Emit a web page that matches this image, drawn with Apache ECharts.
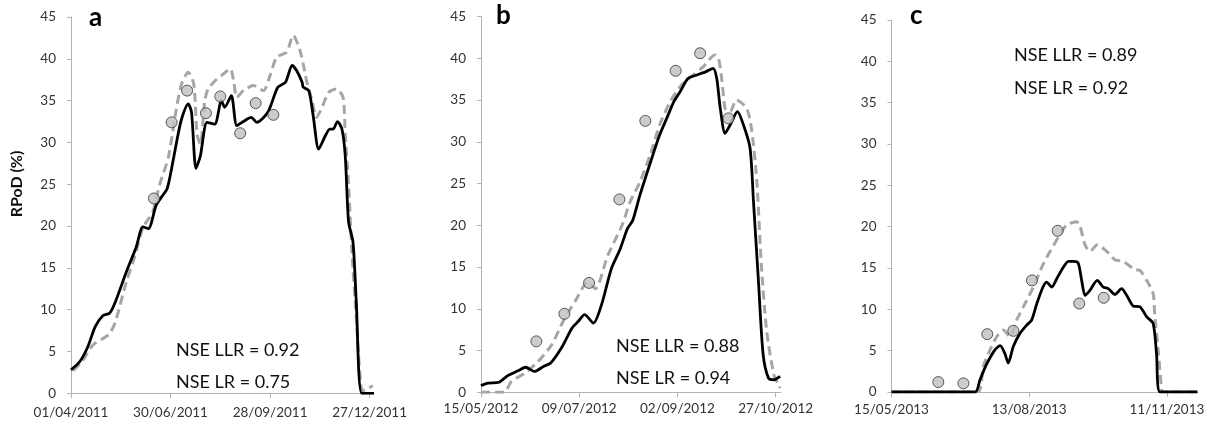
<!DOCTYPE html>
<html><head><meta charset="utf-8">
<script src="https://cdn.jsdelivr.net/npm/echarts@6/dist/echarts.min.js"></script>
<style>html,body{margin:0;padding:0;background:#fff}#c{width:1212px;height:428px}</style>
</head><body><div id="c"></div>
<script>
// ---------- DATA (x = days since the panel's start date, y = RPoD %) ----------
const startA = '01/04/2011';
const startB = '15/05/2012';
const startC = '15/05/2013';
const ticksA = ['01/04/2011', '30/06/2011', '28/09/2011', '27/12/2011'];
const ticksB = ['15/05/2012', '09/07/2012', '02/09/2012', '27/10/2012'];
const ticksC = ['15/05/2013', '13/08/2013', '11/11/2013'];
const yTicks = [0, 5, 10, 15, 20, 25, 30, 35, 40, 45];

const solidA = [[0,2.8],[8,3.8],[15,5.5],[22,8.0],[29,9.3],[35,9.6],[40,10.9],[50,14.5],[59,17.5],[65,19.9],[70,19.7],[77,22.5],[82,23.5],[87,24.5],[91,26.9],[96,30.4],[100,32.8],[106,34.6],[109,33.6],[113,26.9],[117,28.4],[123,32.4],[130,32.2],[136,35.0],[139,34.2],[145,35.6],[150,32.0],[157,32.6],[163,33.0],[168,32.4],[178,33.6],[187,36.6],[194,37.2],[200,39.2],[204,38.6],[209,37.2],[210,36.6],[215,36.2],[219,33.2],[224,29.2],[230,30.8],[234,31.6],[237,31.6],[241,32.5],[245,31.6],[248,28.4],[251,20.5],[255,18.1],[258,10.9],[263,0],[274,0]];
const dashedA = [[2,2.7],[10,3.8],[20,5.8],[34,7.0],[40,8.5],[50,13.3],[58,16.5],[65,19.8],[74,21.7],[80,24.9],[88,28.2],[95,33.8],[100,37.0],[106,38.4],[111,37.0],[114,31.0],[117,29.8],[121,35.0],[124,36.4],[132,37.6],[136,38.0],[144,38.8],[147,37.4],[150,35.4],[156,36.2],[165,36.8],[174,36.2],[180,38.0],[186,40.2],[195,40.8],[201,42.8],[207,41.0],[210,39.4],[213,37.4],[218,35.0],[222,33.0],[227,34.2],[233,36.0],[240,36.4],[246,35.4],[248,31.0],[251,25.0],[254,17.0],[258,9.0],[262,1.0],[264,0.3],[267,0.5],[273,0.9]];
const observedA = [[75,23.3],[91,32.4],[105,36.2],[122,33.5],[135,35.5],[153,31.1],[167,34.7],[183,33.3]];

const solidB = [[0,0.8],[4,1.1],[10,1.2],[15,2.0],[21,2.6],[25,3.0],[30,2.5],[35,3.1],[39,3.5],[45,5.3],[51,7.7],[54.5,8.5],[58,9.3],[63,8.3],[67.5,10.5],[73,14.8],[78,17.2],[82,19.6],[85,20.6],[89,23.6],[95,27.6],[100,30.8],[104,32.8],[108,34.8],[111.5,36.0],[116,37.6],[121,38.0],[126,38.4],[130,38.8],[132,37.6],[134,34.0],[136.7,31.0],[139.5,32.0],[143.6,33.6],[147,32.0],[150.7,29.2],[152.6,22.8],[155.4,13.2],[158,4.5],[161,1.7],[164,1.5],[167.5,1.9]];
const dashedB = [[0,0],[13,0],[17,1.3],[24.6,2.3],[32,3.7],[39.6,5.7],[46,8.5],[52.7,10.9],[60,13.2],[64,12.4],[71,16.4],[79,20.0],[83.5,22.8],[89,25.2],[94.7,28.4],[100,32.0],[106,34.8],[111.5,36.6],[119,38.0],[124.5,39.0],[131,40.4],[133,40.0],[135,37.2],[136.7,34.0],[139.5,33.6],[143,35.0],[148.8,34.0],[151.7,31.2],[154.5,25.2],[157,15.2],[160,7.3],[164,2.1],[166.6,0.9],[167.5,0.5]];
const observedB = [[31,6.1],[46.7,9.4],[60.5,13.1],[77.5,23.1],[92,32.5],[109,38.5],[122.7,40.6],[138.6,32.8]];

const solidC = [[0,0],[54.6,0],[57.8,1.45],[62,3.3],[67.6,5.1],[71,5.6],[74,4.7],[76.3,3.5],[79.6,5.5],[84,7.1],[88.4,8.1],[91.6,8.7],[95,10.7],[99,12.7],[101.4,13.3],[104.7,12.7],[108,13.7],[112,15.0],[115.6,15.8],[118.8,15.8],[122,15.6],[124.3,13.5],[126.5,11.7],[129.7,12.3],[134.5,13.5],[138.4,12.7],[141.7,12.5],[146,11.8],[150.4,12.5],[153.7,11.7],[158,10.4],[162.4,10.3],[166.8,9.1],[171,8.3],[173.2,4.7],[175.5,0],[200,0]];
const dashedC = [[0,0],[56,0],[60,3.1],[64.4,5.1],[68.8,6.7],[73,7.5],[77.5,6.7],[81.8,8.7],[87.3,10.7],[92.7,12.7],[99,15.4],[103.6,17.0],[110,19.0],[114.5,20.2],[121,20.6],[123,20.2],[126.5,17.8],[129.7,17.0],[134.5,17.8],[140.7,17.0],[146,16.0],[151.5,15.8],[159,14.8],[162.4,14.7],[166.8,13.5],[171,11.9],[172,9.5],[174.5,4.7],[176.6,0.2],[177.5,0],[200,0]];
const observedC = [[30.6,1.2],[47,1.05],[62.6,7.0],[79.6,7.4],[91.8,13.5],[108.6,19.5],[122.7,10.7],[138.7,11.4]];

const panelLetters = ['a', 'b', 'c'];
const nseTexts = [['NSE LLR = 0.92', 'NSE LR = 0.75'], ['NSE LLR = 0.88', 'NSE LR = 0.94'], ['NSE LLR = 0.89', 'NSE LR = 0.92']];
const yAxisTitle = 'RPoD (%)';

// ---------- helpers ----------
function parseDMY(s) { const p = s.split('/').map(Number); return Date.UTC(p[2], p[1] - 1, p[0]); }
function offsets(start, labels) { const s0 = parseDMY(start); return labels.map(l => Math.round((parseDMY(l) - s0) / 86400000)); }

const FONT = 'Lato';
const AXIS_COLOR = '#b3b3b3';

const panels = [
  { start: startA, ticks: ticksA, solid: solidA, dashed: dashedA, obs: observedA, max: 274,
    grid: { left: 71, top: 17, width: 303, height: 376.3 }, xMargin: 12 },
  { start: startB, ticks: ticksB, solid: solidB, dashed: dashedB, obs: observedB, max: 168,
    grid: { left: 481, top: 16.5, width: 300, height: 375.8 }, xMargin: 9 },
  { start: startC, ticks: ticksC, solid: solidC, dashed: dashedC, obs: observedC, max: 200,
    grid: { left: 891.5, top: 20, width: 306, height: 372 }, xMargin: 11 }
];

const grids = [], xAxes = [], yAxes = [], series = [];
panels.forEach((p, i) => {
  const tickPos = offsets(p.start, p.ticks);
  grids.push(Object.assign({ containLabel: false }, p.grid));
  xAxes.push({
    type: 'value', gridIndex: i, min: 0, max: p.max,
    splitLine: { show: false },
    axisLine: { show: true, onZero: false, lineStyle: { color: AXIS_COLOR, width: 1 } },
    axisTick: { show: true, length: 5, lineStyle: { color: AXIS_COLOR }, customValues: tickPos },
    axisLabel: {
      customValues: tickPos, margin: p.xMargin, color: '#333333', fontFamily: FONT, fontSize: 13.5,
      formatter: v => { const k = tickPos.indexOf(Math.round(v)); return k >= 0 ? p.ticks[k] : ''; }
    }
  });
  yAxes.push({
    type: 'value', gridIndex: i, min: 0, max: 45, interval: 5,
    splitLine: { show: false },
    axisLine: { show: true, lineStyle: { color: AXIS_COLOR, width: 1 } },
    axisTick: { show: true, length: 4, lineStyle: { color: AXIS_COLOR } },
    axisLabel: { margin: 15, color: '#333333', fontFamily: FONT, fontSize: 13.5, customValues: yTicks }
  });
  series.push({
    type: 'line', xAxisIndex: i, yAxisIndex: i, data: p.dashed, showSymbol: false, symbol: 'none',
    smooth: 0.25, z: 2, lineStyle: { color: '#a6a6a6', width: 3, type: [9, 5] }, silent: true
  });
  series.push({
    type: 'line', xAxisIndex: i, yAxisIndex: i, data: p.solid, showSymbol: false, symbol: 'none',
    smooth: 0.25, z: 3, lineStyle: { color: '#000000', width: 2.8 }, silent: true
  });
  series.push({
    type: 'scatter', xAxisIndex: i, yAxisIndex: i, data: p.obs, symbol: 'circle', symbolSize: 11, z: 4,
    itemStyle: { color: '#bfbfbf', borderColor: '#333333', borderWidth: 1 }, silent: true
  });
});

const letterPos = [[89, 19], [496, 17], [910, 17]];
const nsePos = [[176, 350, 382], [616, 346, 378], [1014, 55, 88]];
const graphics = [];
panelLetters.forEach((t, i) => {
  graphics.push({ type: 'text', left: letterPos[i][0], top: letterPos[i][1] - 14, z: 10,
    style: { text: t, fontFamily: FONT, fontWeight: 'bold', fontSize: 26, fill: '#000' } });
  graphics.push({ type: 'text', x: nsePos[i][0], y: nsePos[i][1], z: 10,
    style: { text: nseTexts[i][0], fontFamily: FONT, fontSize: 18, fill: '#111', verticalAlign: 'middle' } });
  graphics.push({ type: 'text', x: nsePos[i][0], y: nsePos[i][2], z: 10,
    style: { text: nseTexts[i][1], fontFamily: FONT, fontSize: 18, fill: '#111', verticalAlign: 'middle' } });
});
graphics.push({ type: 'text', x: 16.5, y: 184, rotation: Math.PI / 2, z: 10,
  style: { text: yAxisTitle, fontFamily: FONT, fontWeight: 'bold', fontSize: 16, fill: '#111',
    align: 'center', verticalAlign: 'middle' } });

const chart = echarts.init(document.getElementById('c'), null, { renderer: 'canvas' });
chart.setOption({
  animation: false,
  backgroundColor: '#ffffff',
  grid: grids, xAxis: xAxes, yAxis: yAxes, series: series,
  graphic: graphics
});
</script></body></html>
